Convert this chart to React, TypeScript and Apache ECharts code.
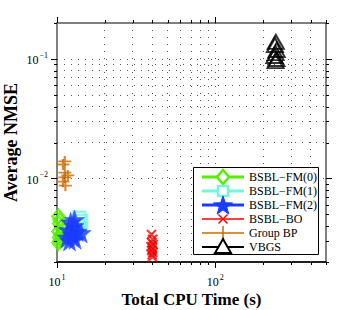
import React, { useEffect, useRef } from "react";
import * as echarts from "echarts";

// ---- data ----
const fm0X = [10.2, 10.4, 10.3, 10.6, 10.2, 10.5, 10.3, 10.8, 10.4, 10.2];
const fm0Y = [0.0048, 0.0045, 0.0042, 0.0039, 0.0036, 0.0034, 0.0032, 0.0031, 0.0030, 0.0029];
const fm1X = [13.8, 14.2, 13.5, 14.0, 13.2];
const fm1Y = [0.0047, 0.0044, 0.0041, 0.0038, 0.0035];
const fm2X = [12.2, 12.8, 11.8, 13.4, 12.5, 11.6, 13.0, 12.0, 12.6, 14.2, 12.9];
const fm2Y = [0.0043, 0.0040, 0.0037, 0.0036, 0.0034, 0.0032, 0.0031, 0.0030, 0.0033, 0.0035, 0.0045];
const boX = [39.5, 40.2, 39.8, 40.5, 39.2, 40.0, 39.6, 40.3, 39.9, 40.1];
const boY = [0.0034, 0.0031, 0.0029, 0.0028, 0.0027, 0.0026, 0.0025, 0.0024, 0.0023, 0.0022];
const gbpX = [11.2, 10.9, 11.2, 11.7, 11.2, 10.9, 11.3];
const gbpY = [0.0139, 0.0131, 0.0112, 0.0106, 0.0102, 0.0094, 0.0087];
const vbgsX = [241, 238, 244, 240, 236, 243, 240];
const vbgsY = [0.139, 0.131, 0.119, 0.112, 0.106, 0.100, 0.096];

const seriesNames = ["BSBL\u2212FM(0)", "BSBL\u2212FM(1)", "BSBL\u2212FM(2)", "BSBL\u2212BO", "Group BP", "VBGS"];

const xMin = 10;
const xMax = 500;
const yMin = 0.002;
const yMax = 0.2;
const xTickValues = [10, 20, 30, 40, 50, 60, 70, 80, 90, 100, 200, 300, 400, 500];
const yTickValues = [0.002, 0.003, 0.004, 0.005, 0.006, 0.007, 0.008, 0.009, 0.01, 0.02, 0.03, 0.04, 0.05, 0.06, 0.07, 0.08, 0.09, 0.1, 0.2];

const FONT = "'Liberation Serif', 'DejaVu Serif', serif";

function starPath(): string {
  const pts: string[] = [];
  for (let i = 0; i < 10; i++) {
    const r = i % 2 === 0 ? 10 : 4;
    const a = -Math.PI / 2 + (i * Math.PI) / 5;
    pts.push(`${(10 + r * Math.cos(a)).toFixed(2)},${(10 + r * Math.sin(a)).toFixed(2)}`);
  }
  return "path://M" + pts.join("L") + "Z";
}
const STAR = starPath();
const XMARK = "path://M0,0L10,10M10,0L0,10";
const PLUS = "path://M5,0L5,10M0,5L10,5";

function zip(xs: number[], ys: number[]) {
  return xs.map((x, i) => [x, ys[i]]);
}

function isPow10(v: number) {
  const e = Math.round(Math.log10(v));
  return Math.abs(v / Math.pow(10, e) - 1) < 1e-6;
}

function powLabel(v: number) {
  if (!isPow10(v)) return "";
  const e = Math.round(Math.log10(v));
  return `{b|10}{s|${e < 0 ? "\u2212" + -e : e}}`;
}

const rich = {
  b: { fontSize: 12, fontFamily: FONT, color: "#000", lineHeight: 15, verticalAlign: "bottom" },
  s: { fontSize: 8, fontFamily: FONT, color: "#000", lineHeight: 15, verticalAlign: "top", padding: [0, 0, 6, 1] },
};

export default function App() {
  const ref = useRef<HTMLDivElement>(null);
  useEffect(() => {
    if (!ref.current) return;
    const chart = echarts.init(ref.current, undefined, { renderer: "svg" });
    const transparent = "rgba(0,0,0,0)";

    const legendColors = ["#55ee00", "#77f5dc", "#1a3cff", "#ff0000", "#cc6a00", "#000000"];
    const legendLineW = [3, 3, 3, 1.5, 1.5, 2];
    const lx0 = 202, lx1 = 244, lmx = 223, ltx = 249, ly0 = 177, ldy = 14;
    const legendEls: any[] = [
      { type: "rect", shape: { x: 193.5, y: 167.5, width: 125, height: 87 }, style: { fill: "#fff", stroke: "#000", lineWidth: 1 }, z: 10 },
    ];
    seriesNames.forEach((name, i) => {
      const y = ly0 + i * ldy;
      const c = legendColors[i];
      legendEls.push({ type: "line", shape: { x1: lx0, y1: y, x2: lx1, y2: y }, style: { stroke: c, lineWidth: legendLineW[i] }, z: 11 });
      if (i === 0) legendEls.push({ type: "polygon", shape: { points: [[lmx, y - 7], [lmx + 6, y], [lmx, y + 7], [lmx - 6, y]] }, style: { fill: "#fff", stroke: c, lineWidth: 2.5 }, z: 12 });
      else if (i === 1) legendEls.push({ type: "rect", shape: { x: lmx - 5, y: y - 5, width: 10, height: 10 }, style: { fill: "#fff", stroke: c, lineWidth: 2.5 }, z: 12 });
      else if (i === 2) {
        const pts: number[][] = [];
        for (let k = 0; k < 10; k++) {
          const r = k % 2 === 0 ? 10 : 4;
          const a = -Math.PI / 2 + (k * Math.PI) / 5;
          pts.push([lmx + r * Math.cos(a), y + 1 + r * Math.sin(a)]);
        }
        legendEls.push({ type: "polygon", shape: { points: pts }, style: { fill: c, stroke: c, lineWidth: 1 }, z: 12 });
      } else if (i === 3) {
        legendEls.push({ type: "line", shape: { x1: lmx - 4.5, y1: y - 4.5, x2: lmx + 4.5, y2: y + 4.5 }, style: { stroke: c, lineWidth: 1.5 }, z: 12 });
        legendEls.push({ type: "line", shape: { x1: lmx + 4.5, y1: y - 4.5, x2: lmx - 4.5, y2: y + 4.5 }, style: { stroke: c, lineWidth: 1.5 }, z: 12 });
      } else if (i === 4) legendEls.push({ type: "line", shape: { x1: lmx, y1: y - 7, x2: lmx, y2: y + 7 }, style: { stroke: c, lineWidth: 1.5 }, z: 12 });
      else legendEls.push({ type: "polygon", shape: { points: [[lmx, y - 8], [lmx + 8, y + 6], [lmx - 8, y + 6]] }, style: { fill: "#fff", stroke: c, lineWidth: 2 }, z: 12 });
      legendEls.push({ type: "text", x: ltx, y: y, style: { text: name, font: `12px ${FONT}`, fill: "#000", verticalAlign: "middle", align: "left" }, z: 12 });
    });

    const gridLineStyle = { type: [1, 6] as any, color: "#555", width: 1 };
    const xGridLines = xTickValues.filter((v) => v > xMin && v < xMax).map((v) => ({ xAxis: v }));
    const yGridLines = yTickValues.filter((v) => v > yMin && v < yMax).map((v) => ({ yAxis: v }));

    const tickSeries = (axis: "x" | "y") => ({
      type: "custom",
      silent: true,
      clip: false,
      z: 5,
      data: axis === "x" ? xTickValues.map((v) => [v, yMin]) : yTickValues.map((v) => [xMin, v]),
      renderItem: (params: any, api: any) => {
        const cs = params.coordSys;
        const v = axis === "x" ? api.value(0) : api.value(1);
        const len = isPow10(v) ? 6 : 3;
        const p = api.coord([api.value(0), api.value(1)]);
        const st = { stroke: "#000", lineWidth: 1 };
        if (axis === "x") {
          const x = Math.round(p[0]) + 0.5;
          return { type: "group", children: [
            { type: "line", shape: { x1: x, y1: cs.y + cs.height, x2: x, y2: cs.y + cs.height + len }, style: st },
            { type: "line", shape: { x1: x, y1: cs.y, x2: x, y2: cs.y - len }, style: st },
          ] };
        }
        const y = Math.round(p[1]) + 0.5;
        return { type: "group", children: [
          { type: "line", shape: { x1: cs.x, y1: y, x2: cs.x - len, y2: y }, style: st },
          { type: "line", shape: { x1: cs.x + cs.width, y1: y, x2: cs.x + cs.width + len, y2: y }, style: st },
        ] };
      },
    });

    chart.setOption({
      animation: false,
      grid: { left: 57, top: 23, right: 34, bottom: 48, show: true, borderColor: "#000", borderWidth: 1, backgroundColor: "#fff", containLabel: false, outerBoundsMode: "none" },
      xAxis: {
        type: "log", logBase: 10, min: xMin, max: xMax,
        axisLine: { show: true, lineStyle: { color: "#000", width: 1.5 } },
        axisTick: { show: false }, splitLine: { show: false },
        axisLabel: { formatter: powLabel, rich, margin: 11, showMinLabel: true, showMaxLabel: true },
        name: "Total CPU Time (s)", nameLocation: "middle", nameGap: 29, nameMoveOverlap: false,
        nameTextStyle: { fontFamily: FONT, fontSize: 17, fontWeight: "bold", color: "#000" },
      },
      yAxis: {
        type: "log", logBase: 10, min: yMin, max: yMax,
        axisLine: { show: true, lineStyle: { color: "#808080", width: 2 } },
        axisTick: { show: false }, splitLine: { show: false },
        axisLabel: { formatter: powLabel, rich, margin: 9 },
        name: "Average NMSE", nameLocation: "middle", nameGap: 37, nameMoveOverlap: false,
        nameTextStyle: { fontFamily: FONT, fontSize: 18, fontWeight: "bold", color: "#000" },
      },
      graphic: { elements: legendEls },
      series: [
        {
          type: "scatter", name: "grid", data: [], silent: true, z: 1,
          markLine: {
            silent: true, symbol: "none", label: { show: false }, animation: false,
            lineStyle: gridLineStyle,
            data: [...xGridLines, ...yGridLines],
          },
        },
        tickSeries("x"),
        tickSeries("y"),
        { type: "scatter", name: seriesNames[4], data: zip(gbpX, gbpY), symbol: PLUS, symbolSize: [13, 11], itemStyle: { color: transparent, borderColor: "#cc6a00", borderWidth: 2 }, z: 3 },
        { type: "scatter", name: seriesNames[0], data: zip(fm0X, fm0Y), symbol: "diamond", symbolSize: [12, 14], itemStyle: { color: transparent, borderColor: "#55ee00", borderWidth: 2.5 }, z: 3 },
        { type: "scatter", name: seriesNames[1], data: zip(fm1X, fm1Y), symbol: "rect", symbolSize: 12, itemStyle: { color: transparent, borderColor: "#77f5dc", borderWidth: 2.5 }, z: 3 },
        { type: "scatter", name: seriesNames[2], data: zip(fm2X, fm2Y), symbol: STAR, symbolSize: 20, itemStyle: { color: "#1a3cff", borderColor: "#1a3cff", borderWidth: 0.5 }, z: 3 },
        { type: "scatter", name: seriesNames[3], data: zip(boX, boY), symbol: XMARK, symbolSize: 9, itemStyle: { color: transparent, borderColor: "#ff0000", borderWidth: 2 }, z: 3 },
        { type: "scatter", name: seriesNames[5], data: zip(vbgsX, vbgsY), symbol: "triangle", symbolSize: [16, 14], itemStyle: { color: transparent, borderColor: "#000", borderWidth: 2 }, z: 3 },
      ],
    });
    return () => chart.dispose();
  }, []);
  return <div ref={ref} style={{ position: "fixed", left: 0, top: 0, width: 360, height: 310, background: "#fff" }} />;
}
